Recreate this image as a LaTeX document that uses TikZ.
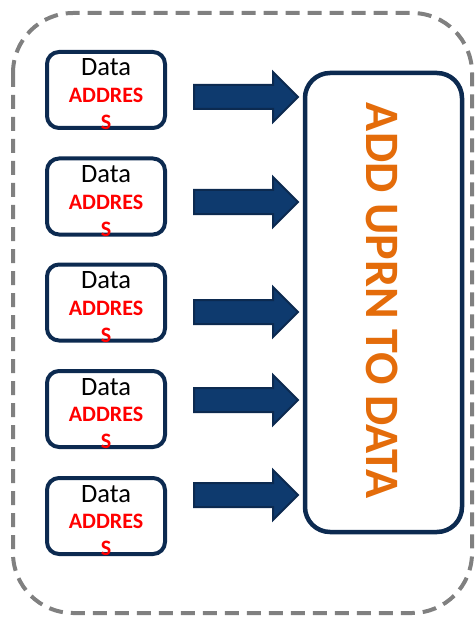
\documentclass[tikz,border=0pt]{standalone}
\usepackage{fontspec}
\setmainfont{Carlito}
\definecolor{navy}{RGB}{12,42,80}
\definecolor{arrowfill}{RGB}{14,58,110}
\definecolor{framegray}{RGB}{128,128,128}
\definecolor{accent}{RGB}{228,108,10}
\definecolor{addrred}{RGB}{255,0,0}
\tikzset{
  frame/.style={draw=framegray, line width=4pt, dash pattern=on 14pt off 8pt, rounded corners=60pt},
  databox/.style={draw=navy, line width=4pt, rounded corners=12pt, fill=white,
    minimum width=118pt, minimum height=76pt, inner sep=0pt},
  datatxt/.style={font=\fontsize{26.5}{28}\selectfont, text=black, inner sep=0pt, anchor=base},
  addrtxt/.style={font=\fontsize{22}{24}\selectfont\bfseries, text=addrred, inner sep=0pt, anchor=base},
  bigbox/.style={draw=navy, line width=4.5pt, rounded corners=25pt, fill=white},
  bigtxt/.style={font=\fontsize{48}{50}\selectfont\bfseries, text=accent, rotate=-90, inner sep=0pt},
  arrowbody/.style={fill=arrowfill, draw=navy, line width=2pt, line join=miter},
  blockarrow/.pic={\draw[arrowbody] (-104,-12) -- (-25,-12) -- (-25,-25) -- (0,0)
     -- (-25,25) -- (-25,12) -- (-104,12) -- cycle;}
}
\begin{document}
\begin{tikzpicture}[x=1pt,y=-1pt]
\useasboundingbox (0,0) rectangle (475,620);
% dashed outer frame
\draw[frame] (13,13) rectangle (472,613);
% target box
\draw[bigbox] (305,73) rectangle (462,532);
\node[bigtxt] (target) at (382,301) {ADD UPRN TO DATA};
% data boxes with their arrows
\foreach \i/\by/\ay in {1/90/97, 2/196.5/202, 3/302.5/312, 4/409/400, 5/516/495}{
  \node[databox] (b\i) at (106,\by) {};
  \node[datatxt] (d\i) at ([yshift=-26pt]b\i.north) {Data};
  \node[addrtxt] (a\i) at ([yshift=-52.5pt]b\i.north) {ADDRES};
  \node[addrtxt] (s\i) at ([yshift=-79.5pt]b\i.north) {S};
  \pic at (298,\ay) {blockarrow};
}
\end{tikzpicture}
\end{document}
